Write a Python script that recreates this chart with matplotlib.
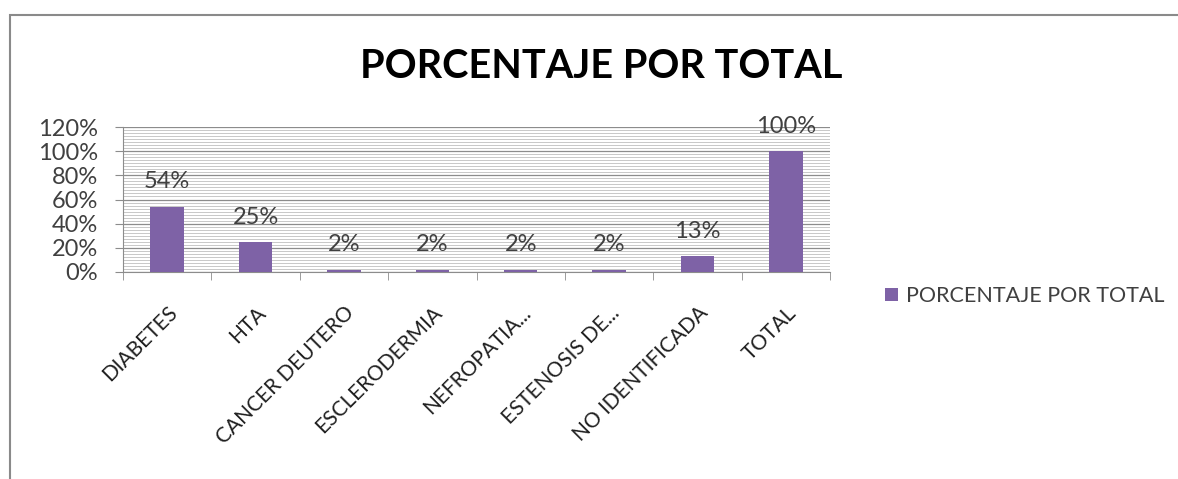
import numpy as np
import matplotlib.pyplot as plt
from matplotlib.patches import Rectangle
from matplotlib.ticker import MultipleLocator, PercentFormatter

categorias = ['DIABETES', 'HTA', 'CANCER DEUTERO', 'ESCLERODERMIA',
              'NEFROPATIA...', 'ESTENOSIS DE...', 'NO IDENTIFICADA', 'TOTAL']
porcentajes = [0.54, 0.25, 0.02, 0.02, 0.02, 0.02, 0.13, 1.00]
etiquetas = ['54%', '25%', '2%', '2%', '2%', '2%', '13%', '100%']
serie = 'PORCENTAJE POR TOTAL'

plt.rcParams['font.family'] = ['Lato', 'DejaVu Sans']
morado = '#7E62A6'
gris = '#404040'

fig = plt.figure(figsize=(11.78, 4.79), dpi=100)
ax = fig.add_axes([123 / 1178, 1 - 272 / 479, (830 - 123) / 1178, (272 - 127) / 479])

x = np.arange(len(categorias))
ax.bar(x, porcentajes, width=0.38, color=morado, label=serie, zorder=3)
# etiquetas de datos ~25 px sobre cada barra
for xi, v, t in zip(x, porcentajes, etiquetas):
    ax.text(xi, v + 0.205, t, ha='center', va='center', fontsize=17, color=gris, zorder=4)

ax.set_xlim(-0.5, len(categorias) - 0.5)
ax.set_ylim(0, 1.2)
ax.yaxis.set_major_locator(MultipleLocator(0.2))
ax.yaxis.set_minor_locator(MultipleLocator(0.025))
ax.yaxis.set_major_formatter(PercentFormatter(1.0, decimals=0))
ax.grid(axis='y', which='major', color='#8c8c8c', linewidth=0.9, zorder=0)
ax.grid(axis='y', which='minor', color='#c8c8c8', linewidth=0.7, zorder=0)
ax.tick_params(axis='y', which='major', length=6, color='#8c8c8c',
               labelsize=17, labelcolor=gris, pad=12)
ax.tick_params(axis='y', which='minor', length=0)

ax.set_xticks(x)
ax.set_xticklabels(categorias, rotation=45, ha='right', rotation_mode='anchor',
                   fontsize=15, color='#202020')
ax.tick_params(axis='x', which='major', length=0, pad=22)
ax.set_xticks(np.arange(-0.5, len(categorias)), minor=True)
ax.tick_params(axis='x', which='minor', length=6, color='#8c8c8c')

for s in ['top', 'right']:
    ax.spines[s].set_visible(False)
ax.spines['left'].set_color('#8c8c8c')
ax.spines['bottom'].set_color('#8c8c8c')

fig.text(601 / 1178, 1 - 67 / 479, 'PORCENTAJE POR TOTAL', ha='center', va='center',
         fontsize=28.5, fontweight='bold', color='black')

fig.legend(loc='center left', bbox_to_anchor=(866 / 1178, 1 - 296 / 479),
           frameon=False, fontsize=15.5, handlelength=0.6, handleheight=0.6,
           handletextpad=0.35, labelcolor=gris)

fig.patches.append(Rectangle((10 / 1178, -0.05), 1.1, 1 - 15 / 479 + 0.05,
                             transform=fig.transFigure, fill=False,
                             edgecolor='#8a8a8a', linewidth=1.5))

fig.savefig('out.png', dpi=100)
